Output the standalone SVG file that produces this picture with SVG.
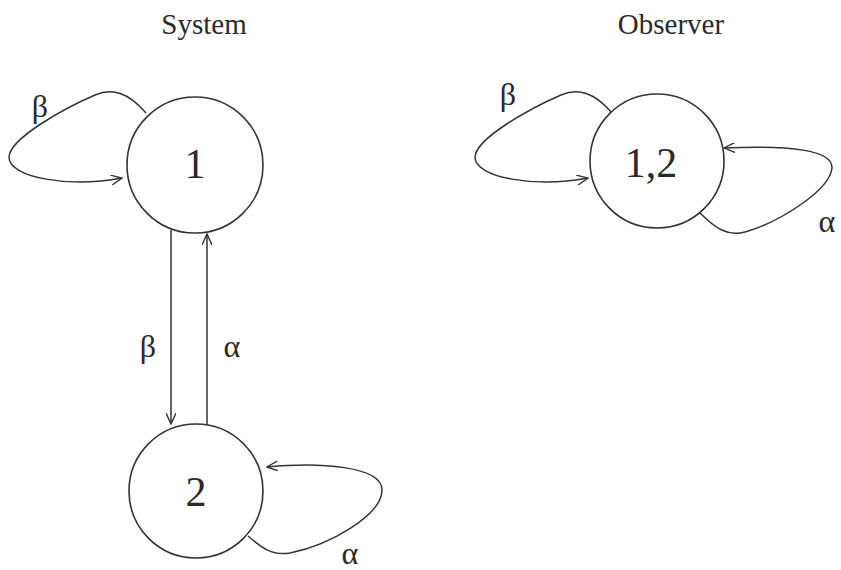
<svg xmlns="http://www.w3.org/2000/svg" width="841" height="570" viewBox="0 0 841 570">
<defs>
<marker id="arr" viewBox="0 0 12 10" refX="11" refY="5" markerWidth="12" markerHeight="10" markerUnits="userSpaceOnUse" orient="auto">
<path d="M0,0 L11,5 L0,10" fill="none" stroke="#333" stroke-width="1.4"/>
</marker>
<style>
.node circle{fill:#fff;stroke:#333;stroke-width:1.6}
.lbl{font-family:"Liberation Serif","DejaVu Serif",serif;fill:#2a2a2a;text-anchor:middle}
.num{font-size:42px}
.greek{font-size:32px}
.title{font-size:29px}
#edges path{fill:none;stroke:#333;stroke-width:1.5;marker-end:url(#arr)}
</style>
</defs>
<rect width="841" height="570" fill="#fff"/>
<text class="lbl title" x="204" y="34">System</text>
<text class="lbl title" x="671" y="34">Observer</text>
<g id="edges">
<path d="M146,113 C128,92 112,88 95,95 C65,108 10,138 9,157 C9,178 70,188 122,178"/>
<path d="M171,230 L171,424"/>
<path d="M207,425 L207,234"/>
<path d="M248,536 C262,548 272,556 290,553 C330,545 382,515 382,490 C382,466 320,462 267,467"/>
<path d="M612,113 C594,92 578,88 561,95 C531,108 476,138 475,157 C475,178 536,188 588,178"/>
<path d="M700,213 C715,228 728,237 745,232 C780,222 830,190 832,168 C833,150 790,145 724,148"/>
</g>
<g id="node1" class="node"><circle cx="195" cy="165" r="68"/><text class="lbl num" x="195" y="178">1</text></g>
<g id="node2" class="node"><circle cx="196" cy="491" r="67"/><text class="lbl num" x="196" y="506">2</text></g>
<g id="node12" class="node"><circle cx="657" cy="161" r="67"/><text class="lbl num" x="651" y="177">1,2</text></g>
<g id="labels">
<text class="lbl greek" x="40" y="117">β</text>
<text class="lbl greek" x="148" y="357">β</text>
<text class="lbl greek" x="232" y="357">α</text>
<text class="lbl greek" x="350" y="564">α</text>
<text class="lbl greek" x="508" y="105">β</text>
<text class="lbl greek" x="827" y="232">α</text>
</g>
</svg>
